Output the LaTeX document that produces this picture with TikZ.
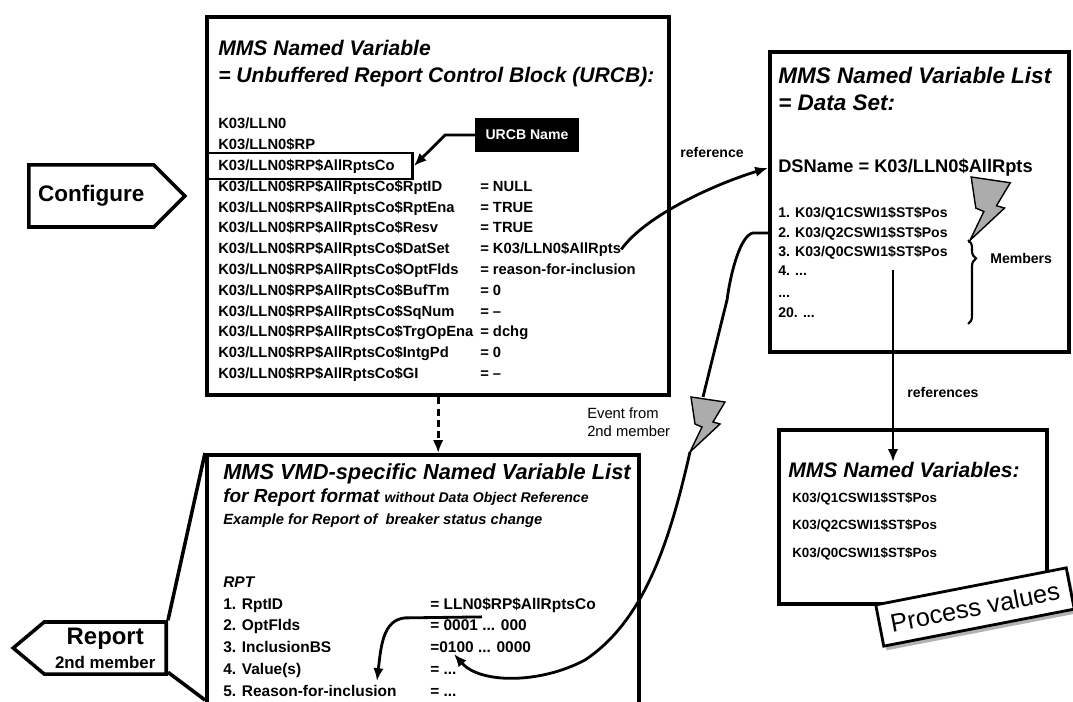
\documentclass[tikz,border=0pt]{standalone}
\usepackage{fontspec}
\setmainfont{Liberation Sans}
\usetikzlibrary{arrows.meta,positioning,shapes.symbols,calc,decorations.pathreplacing,shadows}

\tikzset{
  panel/.style={draw, line width=3pt, anchor=north west, inner sep=0pt},
  ttl/.style={anchor=west, inner sep=0pt, font=\fontsize{15}{18}\selectfont\bfseries\itshape},
  row/.style={anchor=west, inner sep=0pt, text height=1.6ex, text depth=0.45ex, font=\fontsize{10.5}{12}\selectfont\bfseries},
  arr/.style={line width=2pt, -{Latex[length=3.2mm,width=2.6mm]}},
  tag/.style={signal, draw, line width=2.5pt, fill=white, inner sep=1pt, font=\bfseries},
  note/.style={inner sep=0pt, font=\fontsize{10}{12}\selectfont\bfseries},
  bolt/.pic={\draw[line width=1pt, fill=gray!65] (-12,0) -- (22,5) -- (10,25) -- (17,27) -- (-13,55) -- (-1,30) -- (-8,27) -- cycle;},
}

\begin{document}
\begin{tikzpicture}[x=0.025cm, y=-0.025cm]
\useasboundingbox (0,0) rectangle (1073,702);
\clip (0,0) rectangle (1073,702);

% frames
\node[panel, minimum width=11.55cm, minimum height=9.45cm] (urcb) at (205,15) {};
\node[panel, minimum width=7.475cm, minimum height=7.5cm] (dset) at (768,50) {};
\node[panel, minimum width=6.7cm, minimum height=4.35cm] (nvar) at (777,428) {};
\node[panel, minimum width=10.8cm, minimum height=7.5cm] (rpt) at (205,453) {};

% unbuffered report control block
\node[ttl] (u1) at (218,48) {MMS Named Variable};
\node[ttl] (u2) at (218,77) {= Unbuffered Report Control Block (URCB):};
\foreach \a [count=\i] in {K03/LLN0, K03/LLN0\$RP, K03/LLN0\$RP\$AllRptsCo}
  \node[row] (h\i) at (218,{124.6+20.8*(\i-1)}) {\a};
\node[draw, line width=2pt, minimum width=5.15cm, minimum height=0.65cm, anchor=west, inner sep=0pt] (sel) at (205,166) {};
\foreach \a/\b [count=\i] in {RptID/NULL, RptEna/TRUE, Resv/TRUE, DatSet/{K03/LLN0\$AllRpts}, OptFlds/reason-for-inclusion, BufTm/0, SqNum/--, TrgOpEna/dchg, IntgPd/0, GI/--} {
  \node[row] (a\i) at (218,{187+20.8*(\i-1)}) {K03/LLN0\$RP\$AllRptsCo\$\a};
  \node[row] (v\i) at (480,{187+20.8*(\i-1)}) {= \b};
}
\node[fill=black, text=white, font=\fontsize{10}{12}\selectfont\bfseries, minimum width=2.575cm, minimum height=0.85cm] (uname) at (527,135) {URCB Name};
\draw[arr] (uname.west) -- ++(-30,0) -- (sel.east);

% data set
\node[ttl, font=\fontsize{16}{19}\selectfont\bfseries\itshape] (d0) at (778,75) {MMS Named Variable List};
\node[ttl, font=\fontsize{16}{19}\selectfont\bfseries\itshape] (dd) at (778,103) {= Data Set:};
\node[row, font=\fontsize{13}{15}\selectfont\bfseries] (dsn) at (778,168) {DSName = K03/LLN0\$AllRpts};
\foreach \a/\yy [count=\i] in {{1. K03/Q1CSWI1\$ST\$Pos}/213, {2. K03/Q2CSWI1\$ST\$Pos}/233, {3. K03/Q0CSWI1\$ST\$Pos}/252, {4. ...}/271, {...}/293, {20. ...}/313}
  \node[row, font=\fontsize{10}{12}\selectfont\bfseries] (d\i) at (778,\yy) {\a};
\pic[scale=1.15] at (985,177) {bolt};
\draw[line width=1.5pt, decorate, decoration={brace, amplitude=0.2cm, aspect=0.22}] (968,240) -- (968,324);
\node[note, anchor=west] (mem) at (990,258) {Members};

\draw[arr] (v4.east) .. controls +(25,-35) and +(-50,15) .. (dset.west |- dsn);
\node[note] (reflbl) at (712,152) {reference};

% named variables
\node[ttl] (n0) at (788,470) {MMS Named Variables:};
\foreach \a [count=\i] in {K03/Q1CSWI1\$ST\$Pos, K03/Q2CSWI1\$ST\$Pos, K03/Q0CSWI1\$ST\$Pos}
  \node[row, font=\fontsize{9.5}{11}\selectfont\bfseries] (n\i) at (792,{498+27.5*(\i-1)}) {\a};
\coordinate (refs) at (893,270);
\draw[arr] (refs) -- (refs |- n0.north);
\node[note, anchor=west] (refslbl) at (907,392) {references};

\node[draw, line width=2pt, fill=white, rotate=11, minimum width=4.85cm, minimum height=1.05cm, font=\fontsize{18}{20}\selectfont,
  drop shadow={shadow xshift=2pt, shadow yshift=-3pt, fill=gray!60, opacity=1}] (pv) at (975,607) {Process values};

% report
\node[ttl, font=\fontsize{15.5}{18}\selectfont\bfseries\itshape] (bt1) at (223,474) {MMS VMD-specific Named Variable List};
\node[ttl, font=\fontsize{13.5}{16}\selectfont\bfseries\itshape] (bt2) at (223,498) {for Report format {\fontsize{10}{12}\selectfont without Data Object Reference}};
\node[ttl, font=\fontsize{10.5}{12}\selectfont\bfseries\itshape] (bt3) at (223,521) {Example for Report of \ breaker status change};
\node[row, font=\fontsize{11}{13}\selectfont\bfseries\itshape] (brpt) at (223,583) {RPT};
\foreach \a/\b [count=\i] in {{1. RptID}/{= LLN0\$RP\$AllRptsCo}, {2. OptFlds}/{= 0001 ... 000}, {3. InclusionBS}/{=0100 ... 0000}, {4. Value(s)}/{= ...}, {5. Reason-for-inclusion}/{= ...}} {
  \node[row, font=\fontsize{11}{13}\selectfont\bfseries] (b\i) at (223,{605+21.7*(\i-1)}) {\a};
  \node[row, font=\fontsize{11}{13}\selectfont\bfseries] (bv\i) at (430,{605+21.7*(\i-1)}) {\b};
}
\coordinate (valtip) at (377,681);
\draw[arr] (bv1.south west) ++(52,4) -- ++(-77,1) .. controls +(-22,2) and +(4,-35) .. (valtip);

\draw[arr, dash pattern=on 5pt off 3pt] (urcb.south) -- (urcb.south |- rpt.north);

% event from member
\coordinate (bt) at (703,397);
\coordinate (bb) at (690,452);
\coordinate (evtip) at (454,654);
\draw[line width=2pt] (dset.west |- d2) -- ++(-15,0) .. controls +(-12,2) and +(4,-30) .. (727,300) -- (bt);
\pic at (bt) {bolt};
\draw[arr] (bb) .. controls (670,540) and (645,620) .. (585,660) .. controls (540,684) and (480,684) .. (evtip);
\node[note, font=\fontsize{10.5}{12.5}\selectfont, align=left, anchor=west] (evlbl) at (587,422) {Event from\\2nd member};

% tags
\node[tag, signal to=east, anchor=west, minimum width=3.9cm, minimum height=1.55cm, font=\fontsize{16}{19}\selectfont\bfseries] (conf) at (27,196) {Configure};
\node[tag, signal to=west, signal pointer angle=80, anchor=east, minimum width=3.825cm, minimum height=1.3cm, align=center, font=\fontsize{12}{17}\selectfont\bfseries] (rep) at (168,648)
  {{\fontsize{17}{17}\selectfont Report}\\2nd member};
\coordinate (callb) at (205,700);
\draw[line width=2.5pt] (rep.north east) -- (rpt.north west);
\draw[line width=2.5pt] (rep.south east) -- (callb);
\end{tikzpicture}
\end{document}
